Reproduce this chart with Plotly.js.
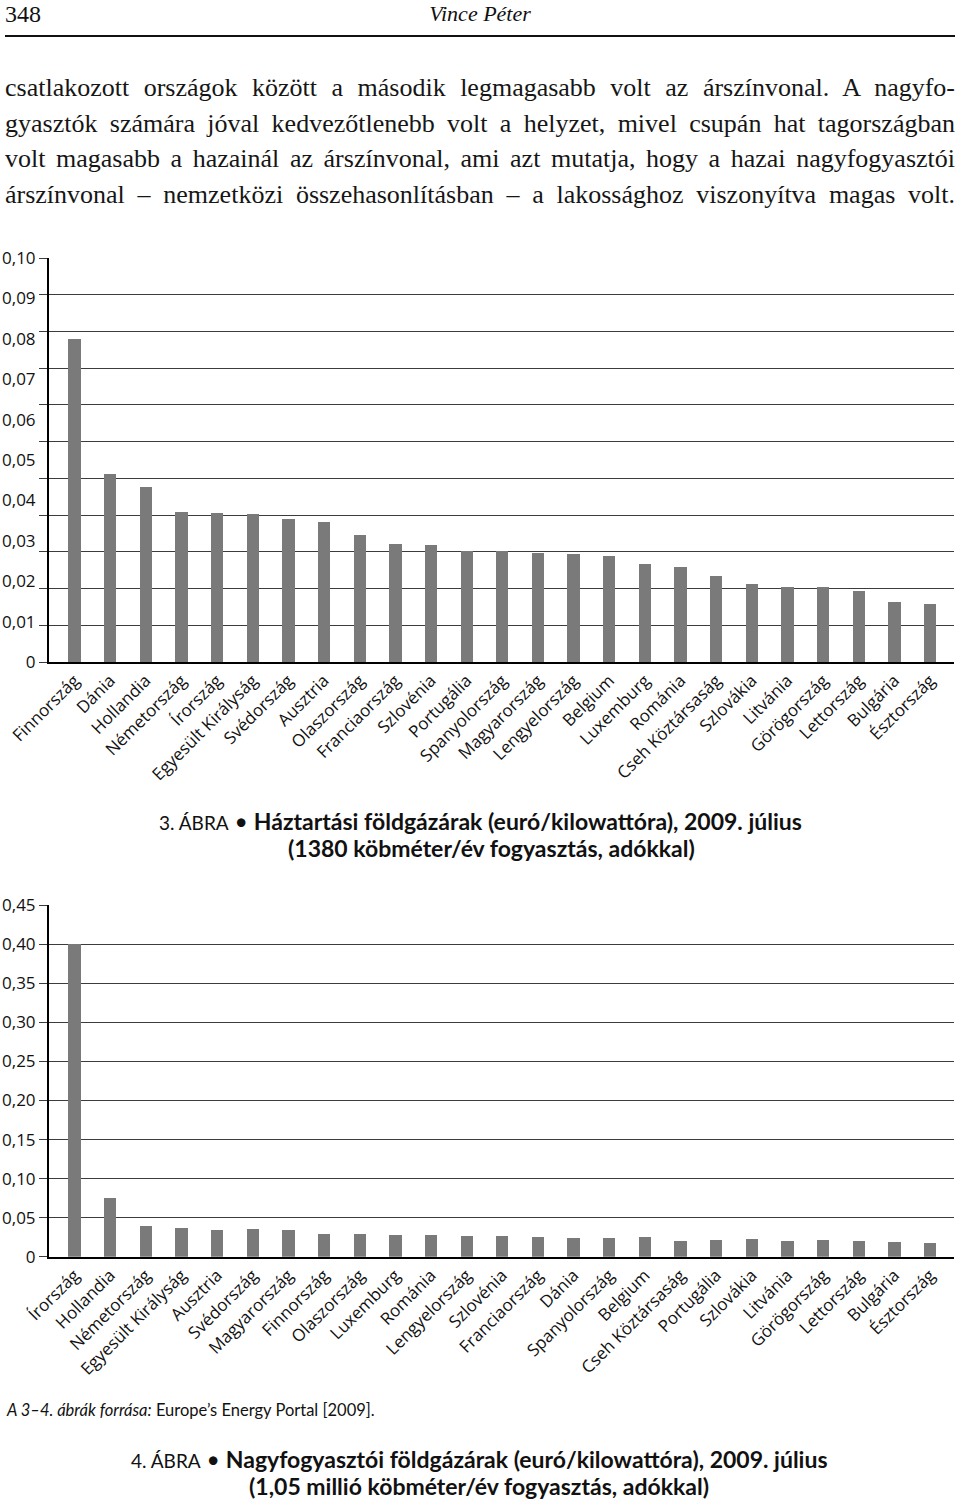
<!DOCTYPE html>
<html><head><meta charset="utf-8">
<script src="https://cdn.plot.ly/plotly-3.0.1.min.js"></script>
<style>
html,body{margin:0;padding:0;background:#fff;}
#wrap{position:relative;width:960px;height:1502px;overflow:hidden;background:#fff;}
#chart{position:absolute;left:0;top:0;width:960px;height:1502px;}
.hdr{position:absolute;font-family:"Liberation Serif",serif;color:#111;line-height:26px;}
#rule{position:absolute;left:5px;top:35px;width:950px;height:2px;background:#111;}
#para{position:absolute;left:5px;top:70px;width:950px;font-family:"Liberation Serif",serif;font-size:26px;color:#161616;}
#para div{line-height:35.5px;height:35.5px;white-space:nowrap;}
#para span{display:inline-block;white-space:nowrap;}
</style>
</head><body>
<div id="wrap">
<div id="chart"></div>
<div class="hdr" style="left:5px;top:1px;font-size:24px;">348</div>
<div class="hdr" style="left:0;width:960px;text-align:center;top:1px;font-size:22px;font-style:italic;">Vince Péter</div>
<div id="rule"></div>
<div id="para">
<div><span>csatlakozott országok között a második legmagasabb volt az árszínvonal. A nagyfo-</span></div>
<div><span>gyasztók számára jóval kedvezőtlenebb volt a helyzet, mivel csupán hat tagországban</span></div>
<div><span>volt magasabb a hazainál az árszínvonal, ami azt mutatja, hogy a hazai nagyfogyasztói</span></div>
<div><span>árszínvonal – nemzetközi összehasonlításban – a lakossághoz viszonyítva magas volt.</span></div>
</div>
</div>
<script>
// ---- Chart 1 (upper) ----
const countries1 = ["Finnország","Dánia","Hollandia","Németország","Írország","Egyesült Királyság","Svédország","Ausztria","Olaszország","Franciaország","Szlovénia","Portugália","Spanyolország","Magyarország","Lengyelország","Belgium","Luxemburg","Románia","Cseh Köztársaság","Szlovákia","Litvánia","Görögország","Lettország","Bulgária","Észtország"];
const values1 = [0.080,0.0465,0.0433,0.0371,0.0370,0.0366,0.0353,0.0347,0.0315,0.0291,0.0290,0.0275,0.0275,0.0269,0.0267,0.0262,0.0242,0.0236,0.0214,0.0193,0.0186,0.0186,0.0175,0.0148,0.0143];
const yTickVals1 = [0,0.01,0.02,0.03,0.04,0.05,0.06,0.07,0.08,0.09,0.10];
const yTickText1 = ["0","0,01","0,02","0,03","0,04","0,05","0,06","0,07","0,08","0,09","0,10"];

// ---- Chart 2 (lower) ----
const countries2 = ["Írország","Hollandia","Németország","Egyesült Királyság","Ausztria","Svédország","Magyarország","Finnország","Olaszország","Luxemburg","Románia","Lengyelország","Szlovénia","Franciaország","Dánia","Spanyolország","Belgium","Cseh Köztársaság","Portugália","Szlovákia","Litvánia","Görögország","Lettország","Bulgária","Észtország"];
const values2 = [0.401,0.0748,0.0389,0.0368,0.0342,0.0355,0.0342,0.0287,0.0295,0.0278,0.0278,0.0261,0.0265,0.0256,0.0239,0.0243,0.0248,0.0205,0.0210,0.0227,0.0205,0.0218,0.0205,0.0184,0.0172];
const yTickVals2 = [0,0.05,0.10,0.15,0.20,0.25,0.30,0.35,0.40,0.45];
const yTickText2 = ["0","0,05","0,10","0,15","0,20","0,25","0,30","0,35","0,40","0,45"];

// justify paragraph lines to full width
document.querySelectorAll("#para span").forEach(s => {
  const w = s.getBoundingClientRect().width;
  const gaps = (s.textContent.match(/ /g) || []).length;
  if (gaps > 0) s.style.wordSpacing = ((950 - w) / gaps) + "px";
});

const W = 960, H = 1502;
const px = p => p / W;
const py = p => 1 - p / H;

const barColor = "#7a7a7a";
const tickFont = {family: "Open Sans", size: 17, color: "#111"};
const gridColor = "#3c3c3c";
const capFont = {family: "Lato", size: 23, color: "#111"};

const data = [
  {type: "scatter", x: [], y: [], xaxis: "x", yaxis: "y", hoverinfo: "skip", showlegend: false},
  {type: "bar", x: countries1, y: values1, xaxis: "x", yaxis: "y3", marker: {color: barColor}, width: 0.345, showlegend: false},
  {type: "bar", x: countries2, y: values2, xaxis: "x2", yaxis: "y2", marker: {color: barColor}, width: 0.345, showlegend: false}
];

const layout = {
  width: W, height: H,
  margin: {l: 0, r: 0, t: 0, b: 0},
  paper_bgcolor: "rgba(0,0,0,0)", plot_bgcolor: "rgba(0,0,0,0)",
  showlegend: false,
  bargap: 0,
  xaxis: {
    domain: [px(49), px(954)], anchor: "y", type: "category",
    range: [-0.715, 24.67], tickangle: -45, tickfont: tickFont,
    showline: true, linecolor: "#000", linewidth: 2, ticks: "", showgrid: false, fixedrange: true
  },
  yaxis: {
    domain: [py(662), py(258)], anchor: "x", range: [0, 11], dtick: 1,
    showticklabels: false, ticks: "outside", ticklen: 8, tickcolor: gridColor, tickwidth: 1,
    showgrid: true, gridcolor: gridColor, gridwidth: 1, zeroline: false,
    showline: true, linecolor: "#000", linewidth: 2, fixedrange: true
  },
  yaxis3: {
    overlaying: "y", side: "left", anchor: "x", range: [0, 0.1],
    tickvals: yTickVals1, ticktext: yTickText1, tickfont: tickFont,
    ticks: "outside", ticklen: 9, tickcolor: "rgba(0,0,0,0)",
    showgrid: false, zeroline: false, showline: false, fixedrange: true
  },
  xaxis2: {
    domain: [px(49), px(954)], anchor: "y2", type: "category",
    range: [-0.715, 24.67], tickangle: -45, tickfont: tickFont,
    showline: true, linecolor: "#000", linewidth: 2, ticks: "", showgrid: false, fixedrange: true
  },
  yaxis2: {
    domain: [py(1256.7), py(905.3)], anchor: "x2", range: [0, 0.45],
    tickvals: yTickVals2, ticktext: yTickText2, tickfont: tickFont,
    ticks: "outside", ticklen: 8, tickcolor: gridColor, tickwidth: 1,
    showgrid: true, gridcolor: gridColor, gridwidth: 1, zeroline: false,
    showline: true, linecolor: "#000", linewidth: 2, fixedrange: true
  },
  annotations: [
    {xref: "paper", yref: "paper", x: px(480), y: py(821), xanchor: "center", yanchor: "middle", showarrow: false,
     text: '<span style="font-size:19px">3. ÁBRA</span> • <b>Háztartási földgázárak (euró/kilowattóra), 2009. július</b>',
     font: capFont},
    {xref: "paper", yref: "paper", x: px(492), y: py(848), xanchor: "center", yanchor: "middle", showarrow: false,
     text: '<b>(1380 köbméter/év fogyasztás, adókkal)</b>',
     font: capFont},
    {xref: "paper", yref: "paper", x: px(4), y: py(1410), xanchor: "left", yanchor: "middle", showarrow: false,
     text: '<i>A 3–4. ábrák forrása:</i> Europe’s Energy Portal [2009].',
     font: {family: "Lato", size: 16.5, color: "#111"}},
    {xref: "paper", yref: "paper", x: px(479), y: py(1459), xanchor: "center", yanchor: "middle", showarrow: false,
     text: '<span style="font-size:19px">4. ÁBRA</span> • <b>Nagyfogyasztói földgázárak (euró/kilowattóra), 2009. július</b>',
     font: capFont},
    {xref: "paper", yref: "paper", x: px(479), y: py(1486), xanchor: "center", yanchor: "middle", showarrow: false,
     text: '<b>(1,05 millió köbméter/év fogyasztás, adókkal)</b>',
     font: capFont}
  ]
};

Plotly.newPlot("chart", data, layout, {displayModeBar: false, staticPlot: true});
</script>
</body></html>
